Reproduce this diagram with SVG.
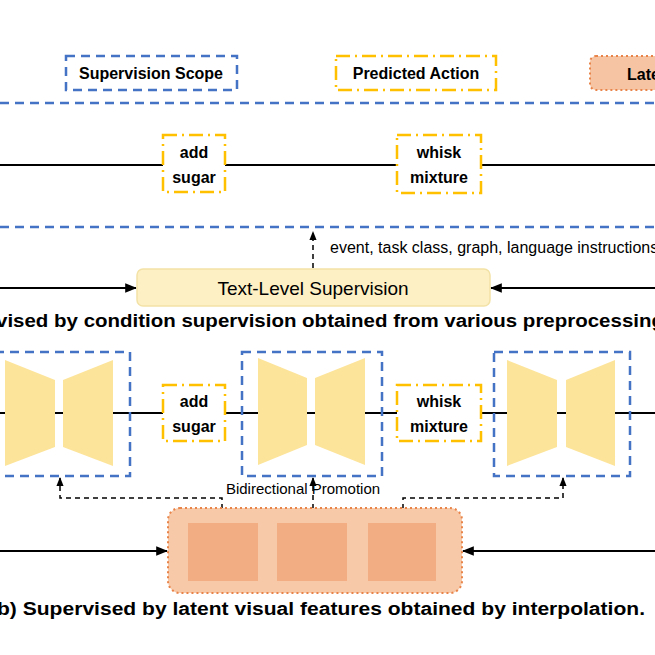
<svg xmlns="http://www.w3.org/2000/svg" width="655" height="655" viewBox="0 0 655 655">
<defs>
<marker id="ah" viewBox="0 0 10 10" refX="9" refY="5" markerWidth="6" markerHeight="6" orient="auto-start-reverse"><path d="M0,1 L10,5 L0,9 z" fill="#000"/></marker>
<style>
.scope{fill:none;stroke:#4472c4;stroke-width:2.5;stroke-dasharray:9,6}
.act{fill:#fff;stroke:#ffc000;stroke-width:2.5;stroke-dasharray:14,5,2,5}
.t{font-family:"Liberation Sans",Arial,sans-serif;fill:#000}
.b{font-weight:bold}
.trap{fill:#fde49b}
.ln{stroke:#000;stroke-width:2;fill:none}
.dash{stroke:#000;stroke-width:1.5;fill:none;stroke-dasharray:5,4}
</style>
</defs>
<rect width="655" height="655" fill="#fff"/>
<g id="legend">
<rect class="scope" x="66" y="56" width="171" height="34"/>
<text class="t b" x="151" y="79" font-size="16" text-anchor="middle">Supervision Scope</text>
<rect class="act" x="336" y="56" width="160" height="34"/>
<text class="t b" x="416" y="79" font-size="16" text-anchor="middle">Predicted Action</text>
<rect x="590" y="56" width="90" height="34" rx="6" fill="#f7c4a3" stroke="#e8844a" stroke-width="2" stroke-dasharray="2,3"/>
<text class="t b" x="627" y="80" font-size="16">Latent</text>
</g>
<g id="connectors">
<line x1="0" y1="103" x2="655" y2="103" class="scope"/>
<line x1="0" y1="227" x2="655" y2="227" class="scope"/>
<line x1="0" y1="165" x2="655" y2="165" class="ln"/>
<line x1="313" y1="268" x2="313" y2="232" class="dash" marker-end="url(#ah)"/>
<line x1="0" y1="288" x2="136" y2="288" class="ln" marker-end="url(#ah)"/>
<line x1="655" y1="288" x2="491" y2="288" class="ln" marker-end="url(#ah)"/>
<line x1="0" y1="413" x2="655" y2="413" class="ln"/>
<path d="M222,518 V498 H60 V478" class="dash" marker-start="url(#ah)" marker-end="url(#ah)"/>
<path d="M403,518 V498 H563 V478" class="dash" marker-start="url(#ah)" marker-end="url(#ah)"/>
<line x1="313" y1="518" x2="313" y2="478" class="dash" marker-start="url(#ah)" marker-end="url(#ah)"/>
<line x1="0" y1="551" x2="167" y2="551" class="ln" marker-end="url(#ah)"/>
<line x1="655" y1="551" x2="463" y2="551" class="ln" marker-end="url(#ah)"/>
</g>
<g id="act1"><rect class="act" x="163" y="135" width="62" height="57"/>
<text class="t b" x="194" y="158" font-size="16" text-anchor="middle">add</text>
<text class="t b" x="194" y="183" font-size="16" text-anchor="middle">sugar</text></g>
<g id="act2"><rect class="act" x="397" y="135" width="84" height="58"/>
<text class="t b" x="439" y="158" font-size="16" text-anchor="middle">whisk</text>
<text class="t b" x="439" y="183" font-size="16" text-anchor="middle">mixture</text></g>
<text class="t" x="330" y="253" font-size="16">event, task class, graph, language instructions</text>
<g id="text-sup"><rect x="137" y="269" width="353" height="37" rx="6" fill="#fdf0c4" stroke="#f3e2a6" stroke-width="1.5"/>
<text class="t" x="313" y="295" font-size="19" text-anchor="middle">Text-Level Supervision</text></g>
<text class="t b" x="-4" y="327" font-size="18" textLength="668" lengthAdjust="spacingAndGlyphs">vised by condition supervision obtained from various preprocessing</text>
<g id="vae1"><rect class="scope" x="-5" y="352" width="135" height="124"/>
<polygon class="trap" points="5,360 55,380 55,447 5,466"/><polygon class="trap" points="63,380 113,360 113,466 63,447"/></g>
<g id="vae2"><rect class="scope" x="242" y="352" width="140" height="124"/>
<polygon class="trap" points="258,358 307,378 307,445 258,465"/><polygon class="trap" points="315,378 365,358 365,465 315,445"/></g>
<g id="vae3"><rect class="scope" x="494" y="352" width="136" height="124"/>
<polygon class="trap" points="507,360 557,380 557,447 507,466"/><polygon class="trap" points="566,380 615,360 615,466 566,447"/></g>
<g id="act3"><rect class="act" x="163" y="385" width="62" height="56"/>
<text class="t b" x="194" y="407" font-size="16" text-anchor="middle">add</text>
<text class="t b" x="194" y="432" font-size="16" text-anchor="middle">sugar</text></g>
<g id="act4"><rect class="act" x="397" y="385" width="84" height="56"/>
<text class="t b" x="439" y="407" font-size="16" text-anchor="middle">whisk</text>
<text class="t b" x="439" y="432" font-size="16" text-anchor="middle">mixture</text></g>
<text class="t" x="303" y="494" font-size="15" text-anchor="middle">Bidirectional Promotion</text>
<g id="latent"><rect x="168" y="508" width="294" height="85" rx="12" fill="#f8c9a8" stroke="#e8844a" stroke-width="2" stroke-dasharray="2,3"/>
<rect x="188" y="523" width="70" height="58" fill="#f2ad82"/>
<rect x="277" y="523" width="70" height="58" fill="#f2ad82"/>
<rect x="368" y="523" width="68" height="58" fill="#f2ad82"/></g>
<text class="t b" x="-10" y="615" font-size="18" textLength="655" lengthAdjust="spacingAndGlyphs">(b) Supervised by latent visual features obtained by interpolation.</text>
</svg>
